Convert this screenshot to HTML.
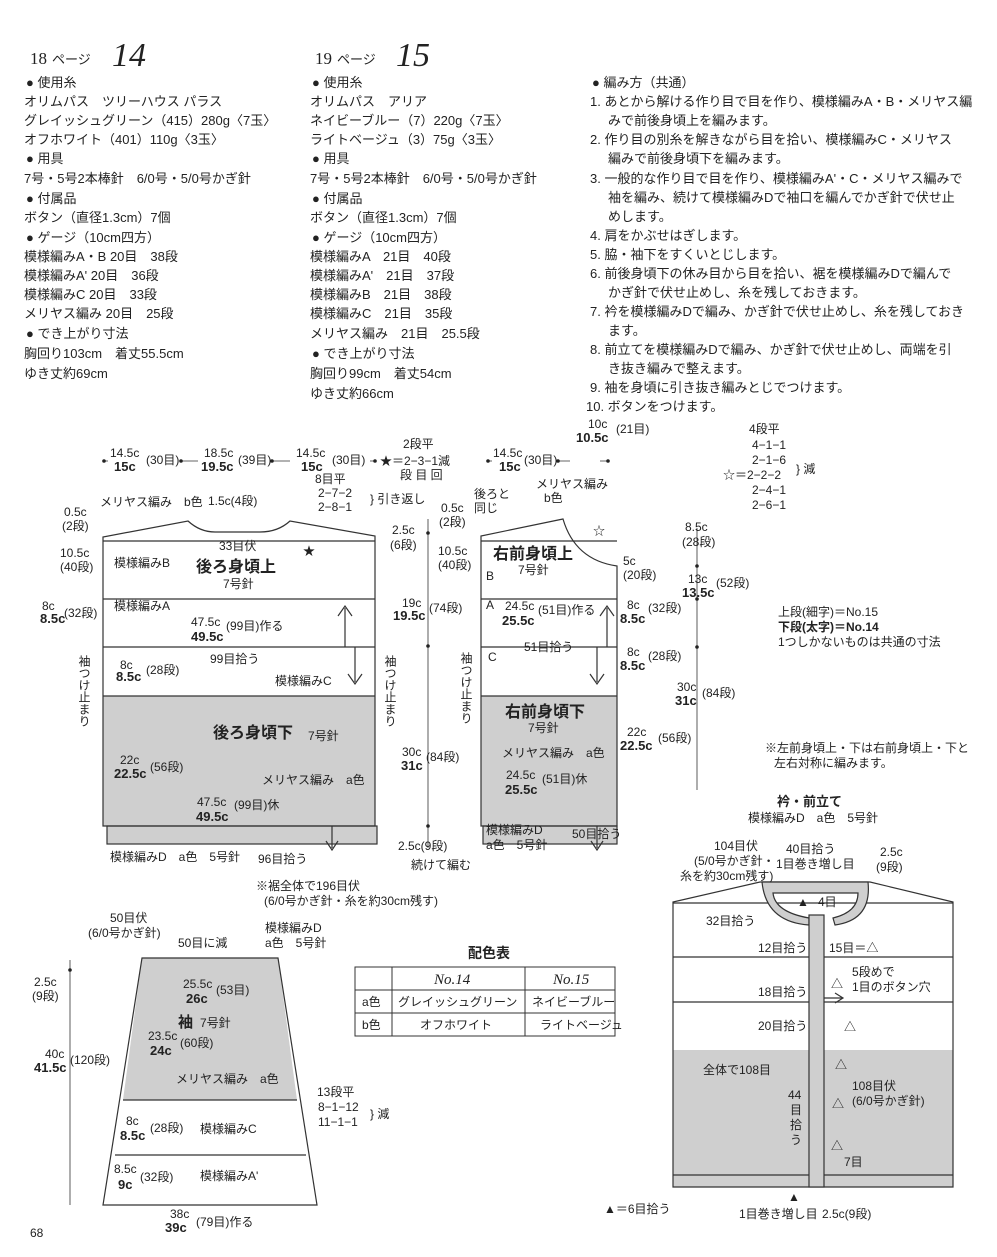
<!DOCTYPE html>
<html><head><meta charset="utf-8"><style>
body{margin:0;background:#fff}
svg{display:block}
text{font-family:"Liberation Sans","Noto Sans CJK JP",sans-serif;font-size:12px;fill:#222}
.b{font-weight:bold}
.t{font-size:13px}
.v{writing-mode:tb;glyph-orientation-vertical:0}
</style></head><body>
<svg width="997" height="1257" viewBox="0 0 997 1257" xmlns="http://www.w3.org/2000/svg">
<text x="30" y="64" style="font-size:17px;font-family:'Liberation Serif',serif">18</text><text x="52" y="64" style="font-size:13px">ページ</text>
<text x="112" y="66" style="font-size:34px;font-style:italic;font-family:'Liberation Serif',serif">14</text>
<text x="315" y="64" style="font-size:17px;font-family:'Liberation Serif',serif">19</text><text x="337" y="64" style="font-size:13px">ページ</text>
<text x="396" y="66" style="font-size:34px;font-style:italic;font-family:'Liberation Serif',serif">15</text>
<g>
<text x="26" y="87" class="t">● 使用糸</text>
<text x="24" y="106" class="t">オリムパス　ツリーハウス パラス</text>
<text x="24" y="125" class="t">グレイッシュグリーン（415）280g〈7玉〉</text>
<text x="24" y="144" class="t">オフホワイト（401）110g〈3玉〉</text>
<text x="26" y="163" class="t">● 用具</text>
<text x="24" y="183" class="t">7号・5号2本棒針　6/0号・5/0号かぎ針</text>
<text x="26" y="203" class="t">● 付属品</text>
<text x="24" y="222" class="t">ボタン（直径1.3cm）7個</text>
<text x="26" y="242" class="t">● ゲージ（10cm四方）</text>
<text x="24" y="261" class="t">模様編みA・B 20目　38段</text>
<text x="24" y="280" class="t">模様編みA' 20目　36段</text>
<text x="24" y="299" class="t">模様編みC 20目　33段</text>
<text x="24" y="318" class="t">メリヤス編み 20目　25段</text>
<text x="26" y="338" class="t">● でき上がり寸法</text>
<text x="24" y="358" class="t">胸回り103cm　着丈55.5cm</text>
<text x="24" y="378" class="t">ゆき丈約69cm</text>

<text x="312" y="87" class="t">● 使用糸</text>
<text x="310" y="106" class="t">オリムパス　アリア</text>
<text x="310" y="125" class="t">ネイビーブルー（7）220g〈7玉〉</text>
<text x="310" y="144" class="t">ライトベージュ（3）75g〈3玉〉</text>
<text x="312" y="163" class="t">● 用具</text>
<text x="310" y="183" class="t">7号・5号2本棒針　6/0号・5/0号かぎ針</text>
<text x="312" y="203" class="t">● 付属品</text>
<text x="310" y="222" class="t">ボタン（直径1.3cm）7個</text>
<text x="312" y="242" class="t">● ゲージ（10cm四方）</text>
<text x="310" y="261" class="t">模様編みA　21目　40段</text>
<text x="310" y="280" class="t">模様編みA'　21目　37段</text>
<text x="310" y="299" class="t">模様編みB　21目　38段</text>
<text x="310" y="318" class="t">模様編みC　21目　35段</text>
<text x="310" y="338" class="t">メリヤス編み　21目　25.5段</text>
<text x="312" y="358" class="t">● でき上がり寸法</text>
<text x="310" y="378" class="t">胸回り99cm　着丈54cm</text>
<text x="310" y="398" class="t">ゆき丈約66cm</text>

<text x="592" y="87" class="t">● 編み方（共通）</text>
<text x="590" y="106" class="t">1. あとから解ける作り目で目を作り、模様編みA・B・メリヤス編</text>
<text x="608" y="125" class="t">みで前後身頃上を編みます。</text>
<text x="590" y="144" class="t">2. 作り目の別糸を解きながら目を拾い、模様編みC・メリヤス</text>
<text x="608" y="163" class="t">編みで前後身頃下を編みます。</text>
<text x="590" y="183" class="t">3. 一般的な作り目で目を作り、模様編みA'・C・メリヤス編みで</text>
<text x="608" y="202" class="t">袖を編み、続けて模様編みDで袖口を編んでかぎ針で伏せ止</text>
<text x="608" y="221" class="t">めします。</text>
<text x="590" y="240" class="t">4. 肩をかぶせはぎします。</text>
<text x="590" y="259" class="t">5. 脇・袖下をすくいとじします。</text>
<text x="590" y="278" class="t">6. 前後身頃下の休み目から目を拾い、裾を模様編みDで編んで</text>
<text x="608" y="297" class="t">かぎ針で伏せ止めし、糸を残しておきます。</text>
<text x="590" y="316" class="t">7. 衿を模様編みDで編み、かぎ針で伏せ止めし、糸を残しておき</text>
<text x="608" y="335" class="t">ます。</text>
<text x="590" y="354" class="t">8. 前立てを模様編みDで編み、かぎ針で伏せ止めし、両端を引</text>
<text x="608" y="373" class="t">き抜き編みで整えます。</text>
<text x="590" y="392" class="t">9. 袖を身頃に引き抜き編みとじでつけます。</text>
<text x="586" y="411" class="t">10. ボタンをつけます。</text>
</g>

<g stroke="#333" stroke-width="1.2" fill="none">
<rect x="103" y="696" width="272" height="130" fill="#cfcfcf" stroke="none"/>
<rect x="107" y="826" width="270" height="18" fill="#cfcfcf"/>
<path d="M103 826 V537 L188 521 Q200 532 215 532 H260 Q278 532 290 521 L375 536 V826 Z"/>
<line x1="103" y1="541" x2="375" y2="541"/>
<line x1="103" y1="599" x2="375" y2="599"/>
<line x1="103" y1="647" x2="375" y2="647"/>
<line x1="103" y1="696" x2="375" y2="696"/>
<path d="M345 647 V608 M338 616 L345 606 L352 616"/>
<path d="M355 647 V682 M348 674 L355 684 L362 674"/>
<path d="M332 826 V848 M326 841 L332 850 L338 841"/>
<rect x="481" y="696" width="136" height="130" fill="#cfcfcf" stroke="none"/>
<rect x="483" y="826" width="134" height="18" fill="#cfcfcf"/>
<path d="M481 826 V536 L563 519 Q575 560 617 566 V826 Z"/>
<line x1="481" y1="541" x2="617" y2="541"/>
<line x1="481" y1="599" x2="617" y2="599"/>
<line x1="481" y1="647" x2="617" y2="647"/>
<line x1="481" y1="696" x2="617" y2="696"/>
<path d="M607 647 V608 M600 616 L607 606 L614 616"/>
<path d="M597 647 V682 M590 674 L597 684 L604 674"/>
<path d="M597 826 V848 M591 841 L597 850 L603 841"/>
<line x1="428" y1="519" x2="428" y2="848" stroke-width="0.8"/>
<g stroke-width="0.7">
<path d="M181 461 H198 M272 461 H290 M104 461 H108 M370 461 H375 M488 461 H492 M558 461 H570 M600 461 H608"/>
</g>
<line x1="697" y1="528" x2="697" y2="790" stroke-width="0.8"/>
<path d="M142 958 H278 L297 1100 H123 Z" fill="#cfcfcf" stroke="none"/>
<path d="M142 958 H278 L317 1205 H103 Z"/>
<line x1="123" y1="1100" x2="297" y2="1100"/>
<line x1="115" y1="1155" x2="306" y2="1155"/>
<line x1="70" y1="960" x2="70" y2="1205" stroke-width="0.8"/>
<rect x="673" y="1050" width="280" height="137" fill="#cfcfcf" stroke="none"/>
<path d="M673 1187 V902 L760 882 H870 L953 902 V1187 Z"/>
<line x1="673" y1="903" x2="953" y2="903"/>
<line x1="673" y1="957" x2="953" y2="957"/>
<line x1="673" y1="1002" x2="953" y2="1002"/>
<line x1="673" y1="1175" x2="953" y2="1175"/>
<path d="M762 882 H868 Q872 920 835 925 L833 918 Q858 912 858 893 H773 Q775 912 809 918 V925 Q766 922 762 882 Z" fill="#cfcfcf"/>
<rect x="809" y="915" width="15" height="272" fill="#cfcfcf"/>
<path d="M824 998 H842 M835 993 L843 998 L835 1003"/>
</g>
<g fill="#222">
<circle cx="104" cy="461" r="1.8"/><circle cx="181" cy="461" r="1.8"/><circle cx="272" cy="461" r="1.8"/><circle cx="375" cy="461" r="1.8"/>
<circle cx="488" cy="461" r="1.8"/><circle cx="558" cy="461" r="1.8"/><circle cx="608" cy="461" r="1.8"/>
<circle cx="428" cy="533" r="1.8"/><circle cx="428" cy="646" r="1.8"/><circle cx="428" cy="826" r="1.8"/>
<circle cx="697" cy="566" r="1.8"/><circle cx="697" cy="599" r="1.8"/><circle cx="697" cy="647" r="1.8"/>
<circle cx="70" cy="970" r="1.8"/>
</g>
<g stroke="#333" stroke-width="1" fill="none">
<rect x="355" y="967" width="260" height="69"/>
<line x1="355" y1="990" x2="615" y2="990"/><line x1="355" y1="1013" x2="615" y2="1013"/>
<line x1="392" y1="967" x2="392" y2="1036"/><line x1="525" y1="967" x2="525" y2="1036"/>
</g>
<text x="468" y="958" class="b" style="font-size:14px">配色表</text>
<text x="434" y="984" style="font-size:15px;font-style:italic;font-family:'Liberation Serif',serif">No.14</text>
<text x="553" y="984" style="font-size:15px;font-style:italic;font-family:'Liberation Serif',serif">No.15</text>
<text x="362" y="1006">a色</text><text x="398" y="1006">グレイッシュグリーン</text><text x="532" y="1006">ネイビーブルー</text>
<text x="362" y="1029">b色</text><text x="420" y="1029">オフホワイト</text><text x="540" y="1029">ライトベージュ</text>

<text x="110" y="457">14.5c</text><text x="114" y="471" class="b t">15c</text><text x="146" y="464">(30目)</text>
<text x="204" y="457">18.5c</text><text x="201" y="471" class="b t">19.5c</text><text x="238" y="464">(39目)</text>
<text x="296" y="457">14.5c</text><text x="301" y="471" class="b t">15c</text><text x="332" y="464">(30目)</text>
<text x="403" y="448">2段平</text>
<text x="380" y="465">★＝2−3−1減</text>
<text x="400" y="479">段 目 回</text>
<text x="315" y="483">8目平</text>
<text x="318" y="497">2−7−2</text><text x="318" y="511">2−8−1</text><text x="370" y="503">} 引き返し</text>
<text x="100" y="506">メリヤス編み　b色</text><text x="208" y="505">1.5c(4段)</text>
<text x="64" y="516">0.5c</text><text x="62" y="530">(2段)</text>
<text x="219" y="550">33目伏</text><text x="303" y="555">★</text>
<text x="60" y="557">10.5c</text><text x="60" y="571">(40段)</text>
<text x="114" y="567">模様編みB</text>
<text x="196" y="572" class="b" style="font-size:16px">後ろ身頃上</text><text x="223" y="588">7号針</text>
<text x="42" y="610">8c</text><text x="40" y="623" class="b t">8.5c</text><text x="64" y="617">(32段)</text>
<text x="114" y="610">模様編みA</text>
<text x="191" y="626">47.5c</text><text x="191" y="641" class="b t">49.5c</text><text x="226" y="630">(99目)作る</text>
<text x="120" y="669">8c</text><text x="116" y="681" class="b t">8.5c</text><text x="146" y="674">(28段)</text>
<text x="210" y="663">99目拾う</text>
<text x="275" y="685">模様編みC</text>
<text x="213" y="738" class="b" style="font-size:16px">後ろ身頃下</text><text x="308" y="740">7号針</text>
<text x="120" y="764">22c</text><text x="114" y="778" class="b t">22.5c</text><text x="150" y="771">(56段)</text>
<text x="262" y="784">メリヤス編み　a色</text>
<text x="197" y="806">47.5c</text><text x="196" y="821" class="b t">49.5c</text><text x="234" y="809">(99目)休</text>
<text x="110" y="861">模様編みD　a色　5号針</text><text x="258" y="863">96目拾う</text>
<text x="256" y="890">※裾全体で196目伏</text><text x="264" y="905">(6/0号かぎ針・糸を約30cm残す)</text>
<text x="84" y="655" class="v">袖つけ止まり</text>
<text x="390" y="655" class="v">袖つけ止まり</text>
<text x="466" y="652" class="v">袖つけ止まり</text>
<text x="392" y="534">2.5c</text><text x="390" y="549">(6段)</text>
<text x="402" y="607">19c</text><text x="393" y="620" class="b t">19.5c</text><text x="429" y="612">(74段)</text>
<text x="402" y="756">30c</text><text x="401" y="770" class="b t">31c</text><text x="426" y="761">(84段)</text>
<text x="398" y="850">2.5c(9段)</text><text x="411" y="869">続けて編む</text>
<text x="493" y="457">14.5c</text><text x="499" y="471" class="b t">15c</text><text x="524" y="464">(30目)</text>
<text x="588" y="428">10c</text><text x="576" y="442" class="b t">10.5c</text><text x="616" y="433">(21目)</text>
<text x="474" y="498">後ろと</text><text x="474" y="512">同じ</text><text x="536" y="488">メリヤス編み</text><text x="544" y="502">b色</text>
<text x="441" y="512">0.5c</text><text x="439" y="526">(2段)</text><text x="593" y="535">☆</text>
<text x="438" y="555">10.5c</text><text x="438" y="569">(40段)</text>
<text x="493" y="559" class="b" style="font-size:16px">右前身頃上</text><text x="518" y="574">7号針</text><text x="486" y="580">B</text>
<text x="623" y="565">5c</text><text x="623" y="579">(20段)</text>
<text x="486" y="609">A</text><text x="505" y="610">24.5c</text><text x="502" y="625" class="b t">25.5c</text><text x="538" y="614">(51目)作る</text>
<text x="627" y="609">8c</text><text x="620" y="623" class="b t">8.5c</text><text x="648" y="612">(32段)</text>
<text x="524" y="651">51目拾う</text><text x="488" y="661">C</text>
<text x="627" y="656">8c</text><text x="620" y="670" class="b t">8.5c</text><text x="648" y="660">(28段)</text>
<text x="505" y="717" class="b" style="font-size:16px">右前身頃下</text><text x="528" y="732">7号針</text>
<text x="502" y="757">メリヤス編み　a色</text>
<text x="627" y="736">22c</text><text x="620" y="750" class="b t">22.5c</text><text x="658" y="742">(56段)</text>
<text x="506" y="779">24.5c</text><text x="505" y="794" class="b t">25.5c</text><text x="542" y="783">(51目)休</text>
<text x="486" y="834">模様編みD</text><text x="486" y="849">a色　5号針</text><text x="572" y="838">50目拾う</text>
<text x="749" y="433">4段平</text><text x="752" y="449">4−1−1</text><text x="752" y="464">2−1−6</text>
<text x="723" y="479">☆＝2−2−2</text><text x="752" y="494">2−4−1</text><text x="752" y="509">2−6−1</text><text x="796" y="473">} 減</text>
<text x="685" y="531">8.5c</text><text x="682" y="546">(28段)</text>
<text x="688" y="583">13c</text><text x="682" y="597" class="b t">13.5c</text><text x="716" y="587">(52段)</text>
<text x="677" y="691">30c</text><text x="675" y="705" class="b t">31c</text><text x="702" y="697">(84段)</text>
<text x="778" y="616">上段(細字)＝No.15</text><text x="778" y="631" class="b">下段(太字)＝No.14</text><text x="778" y="646">1つしかないものは共通の寸法</text>
<text x="765" y="752">※左前身頃上・下は右前身頃上・下と</text><text x="774" y="767">左右対称に編みます。</text>
<text x="777" y="806" class="b" style="font-size:13px">衿・前立て</text><text x="748" y="822">模様編みD　a色　5号針</text>
<text x="714" y="850">104目伏</text><text x="694" y="865">(5/0号かぎ針・</text><text x="680" y="880">糸を約30cm残す)</text>
<text x="786" y="853">40目拾う</text><text x="776" y="868">1目巻き増し目</text>
<text x="880" y="856">2.5c</text><text x="876" y="871">(9段)</text>
<text x="818" y="906">4目</text><text x="797" y="906">▲</text>
<text x="706" y="925">32目拾う</text>
<text x="758" y="952">12目拾う</text><text x="829" y="952">15目＝△</text>
<text x="852" y="976">5段めで</text><text x="852" y="991">1目のボタン穴</text><text x="831" y="988">△</text>
<text x="758" y="996">18目拾う</text>
<text x="758" y="1030">20目拾う</text><text x="844" y="1031">△</text>
<text x="703" y="1074">全体で108目</text><text x="835" y="1069">△</text>
<text x="852" y="1090">108目伏</text><text x="852" y="1105">(6/0号かぎ針)</text><text x="832" y="1108">△</text>
<text x="788" y="1099">44</text><text x="790" y="1114">目</text><text x="790" y="1129">拾</text><text x="790" y="1144">う</text>
<text x="831" y="1150">△</text><text x="844" y="1166">7目</text>
<text x="788" y="1201">▲</text><text x="739" y="1218">1目巻き増し目</text><text x="822" y="1218">2.5c(9段)</text>
<text x="604" y="1213">▲＝6目拾う</text>
<text x="110" y="922">50目伏</text><text x="88" y="937">(6/0号かぎ針)</text>
<text x="178" y="947">50目に減</text>
<text x="265" y="932">模様編みD</text><text x="265" y="947">a色　5号針</text>
<text x="34" y="986">2.5c</text><text x="32" y="1000">(9段)</text>
<text x="183" y="988">25.5c</text><text x="186" y="1003" class="b t">26c</text><text x="216" y="994">(53目)</text>
<text x="178" y="1027" class="b" style="font-size:15px">袖</text><text x="200" y="1027">7号針</text>
<text x="148" y="1040">23.5c</text><text x="150" y="1055" class="b t">24c</text><text x="180" y="1047">(60段)</text>
<text x="176" y="1083">メリヤス編み　a色</text>
<text x="45" y="1058">40c</text><text x="34" y="1072" class="b t">41.5c</text><text x="70" y="1064">(120段)</text>
<text x="317" y="1096">13段平</text><text x="318" y="1111">8−1−12</text><text x="318" y="1126">11−1−1</text><text x="370" y="1118">} 減</text>
<text x="126" y="1125">8c</text><text x="120" y="1140" class="b t">8.5c</text><text x="150" y="1132">(28段)</text><text x="200" y="1133">模様編みC</text>
<text x="114" y="1173">8.5c</text><text x="118" y="1189" class="b t">9c</text><text x="140" y="1181">(32段)</text><text x="200" y="1180">模様編みA'</text>
<text x="170" y="1218">38c</text><text x="165" y="1232" class="b t">39c</text><text x="196" y="1226">(79目)作る</text>
<text x="30" y="1237">68</text>
</svg>
</body></html>
